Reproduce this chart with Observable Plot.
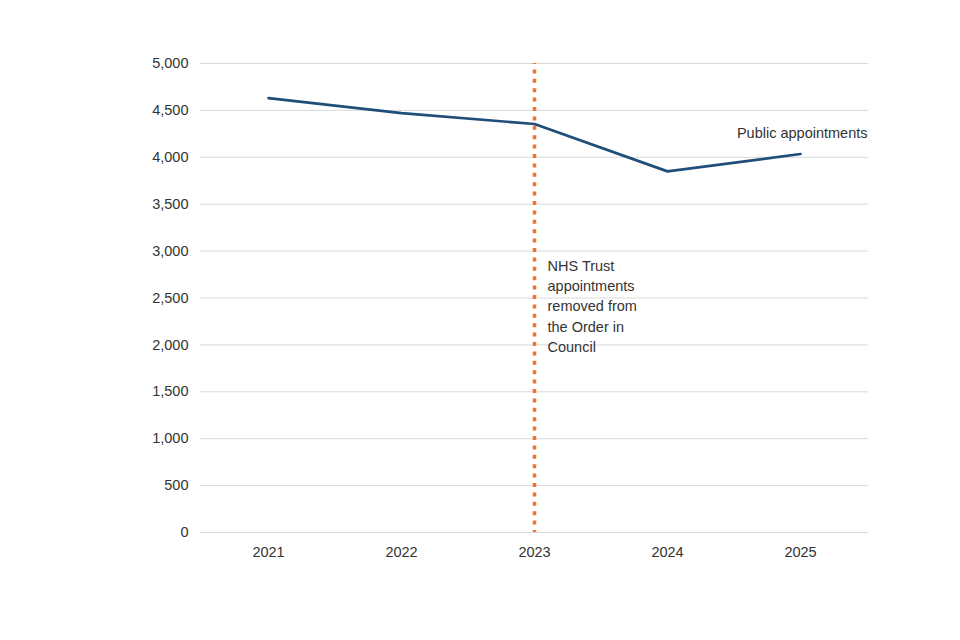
<!DOCTYPE html>
<html>
<head>
<meta charset="utf-8">
<script src="https://cdn.jsdelivr.net/npm/d3@7"></script>
<script src="https://cdn.jsdelivr.net/npm/@observablehq/plot@0.6"></script>
<style>
  html, body { margin: 0; padding: 0; background: #fff; }
</style>
</head>
<body>
<div id="chart"></div>
<script>
const years = ["2021", "2022", "2023", "2024", "2025"];
const appointments = [4630, 4470, 4355, 3850, 4035];
const yTicks = [0, 500, 1000, 1500, 2000, 2500, 3000, 3500, 4000, 4500, 5000];
const seriesLabel = "Public appointments";
const seriesLabelY = 4250;
const markerYear = "2023";
const markerNote = "NHS Trust\nappointments\nremoved from\nthe Order in\nCouncil";
const markerNoteY = 2945;

const data = years.map((year, i) => ({ year, value: appointments[i] }));

const chart = Plot.plot({
  width: 960,
  height: 640,
  marginLeft: 200,
  marginRight: 92,
  marginTop: 63,
  marginBottom: 108,
  style: {
    fontFamily: "'Liberation Sans', Arial, sans-serif",
    fontSize: "14px",
    color: "#333",
    background: "#fff"
  },
  x: { type: "point", domain: years, padding: 0.5 },
  y: { domain: [0, 5000] },
  marks: [
    Plot.ruleY(yTicks, { stroke: "#d9d9d9", strokeWidth: 1 }),
    Plot.axisY({ ticks: yTicks, tickFormat: d3.format(","), tickSize: 0, tickPadding: 12, label: null, fontSize: 14.5 }),
    Plot.axisX({ tickSize: 0, tickPadding: 14, label: null, fontSize: 14.5 }),
    Plot.ruleX([markerYear], { stroke: "#F4722B", strokeWidth: 3.5, strokeDasharray: "4,5.4", strokeDashoffset: 3 }),
    Plot.line(data, { x: "year", y: "value", stroke: "#1F4E79", strokeWidth: 2.7 }),
    Plot.text([seriesLabel], { text: d => d, frameAnchor: "right", y: () => seriesLabelY, dx: -1, textAnchor: "end", fill: "#333", fontSize: 14.5 }),
    Plot.text([markerNote], { text: d => d, x: () => markerYear, y: () => markerNoteY, dx: 13, textAnchor: "start", lineAnchor: "top", lineHeight: 1.4, fill: "#333", fontSize: 14.5 })
  ]
});

document.getElementById("chart").appendChild(chart);
</script>
</body>
</html>
